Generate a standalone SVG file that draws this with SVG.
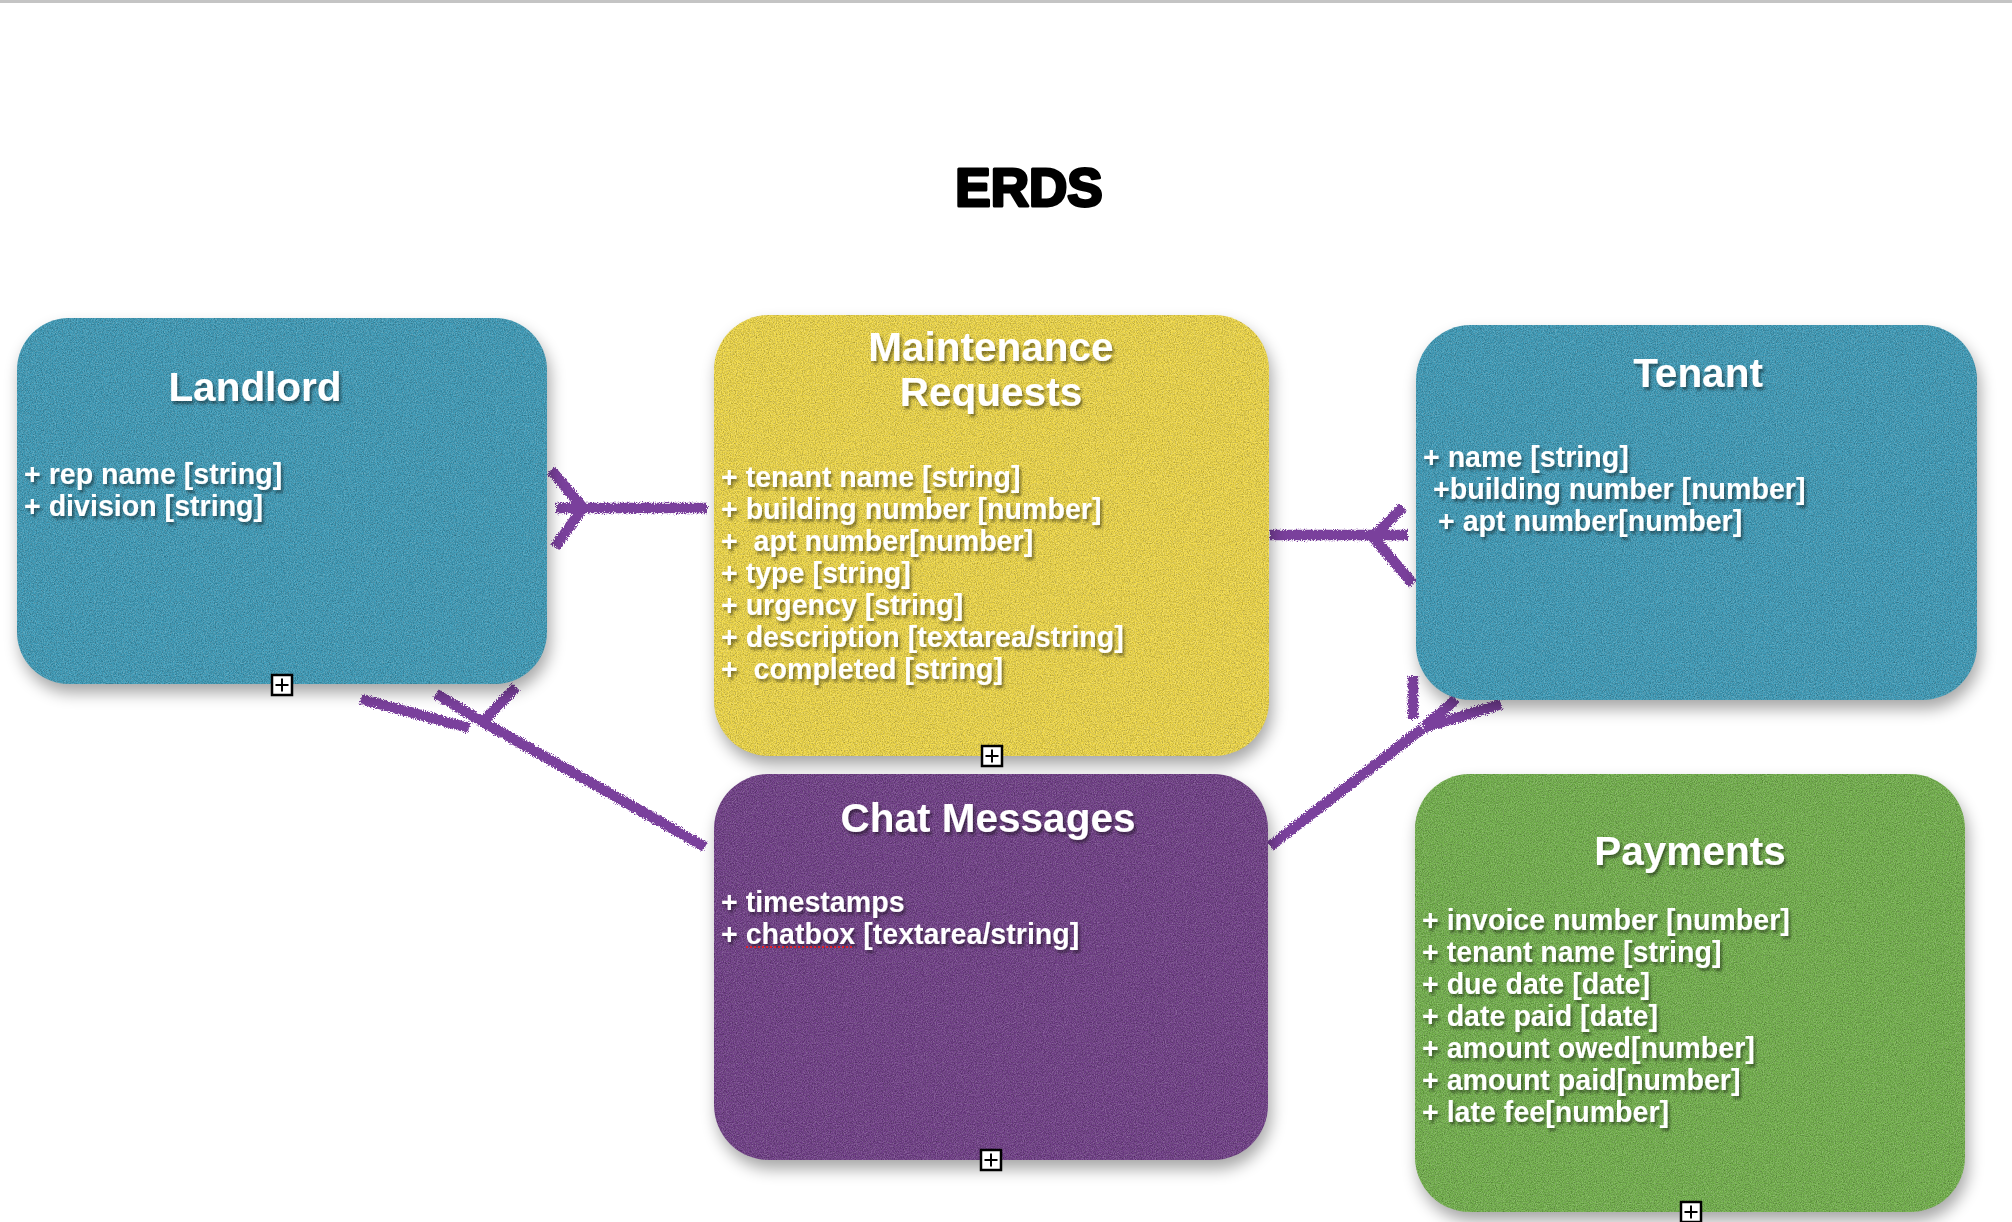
<svg xmlns="http://www.w3.org/2000/svg" width="2012" height="1222" viewBox="0 0 2012 1222">
<defs>
  <filter id="box" x="-10%" y="-10%" width="125%" height="130%" color-interpolation-filters="sRGB">
    <feGaussianBlur in="SourceAlpha" stdDeviation="8" result="b"/>
    <feOffset in="b" dx="3" dy="9" result="bo"/>
    <feComponentTransfer in="bo" result="sh"><feFuncA type="linear" slope="0.35"/></feComponentTransfer>
    <feTurbulence type="fractalNoise" baseFrequency="0.85" numOctaves="2" seed="4" result="n"/>
    <feColorMatrix in="n" type="matrix" values="0 0 0 0 0  0 0 0 0 0  0 0 0 0 0  0.6 0 0 0 -0.22" result="dk"/>
    <feComposite in="dk" in2="SourceAlpha" operator="in" result="dkin"/>
    <feTurbulence type="fractalNoise" baseFrequency="0.9" numOctaves="2" seed="9" result="n2"/>
    <feColorMatrix in="n2" type="matrix" values="0 0 0 0 1  0 0 0 0 1  0 0 0 0 1  0.5 0 0 0 -0.18" result="lt"/>
    <feComposite in="lt" in2="SourceAlpha" operator="in" result="ltin"/>
    <feMerge><feMergeNode in="sh"/><feMergeNode in="SourceGraphic"/><feMergeNode in="dkin"/><feMergeNode in="ltin"/></feMerge>
  </filter>
  <filter id="ts" x="-5%" y="-20%" width="115%" height="160%">
    <feDropShadow dx="2" dy="3" stdDeviation="1.6" flood-color="#000" flood-opacity="0.45"/>
  </filter>
  <filter id="crayon" x="-10%" y="-10%" width="120%" height="120%">
    <feTurbulence type="fractalNoise" baseFrequency="0.9" numOctaves="2" seed="2" result="t"/>
    <feDisplacementMap in="SourceGraphic" in2="t" scale="6" xChannelSelector="R" yChannelSelector="G"/>
  </filter>
  <g id="plus">
    <rect x="-10" y="-10" width="20" height="20" fill="#fff" stroke="#000" stroke-width="2.5"/>
    <path d="M-6.5 0H6.5M0 -6.5V6.5" stroke="#000" stroke-width="2"/>
  </g>
</defs>
<style>
  .title{font-family:"Liberation Sans",Arial,sans-serif;font-weight:bold;font-size:40.5px;fill:#fff;text-anchor:middle}
  .attr{font-family:"Liberation Sans",Arial,sans-serif;font-weight:bold;font-size:28.6px;fill:#fff}
  .conn{fill:none;stroke:#7a3f9c;stroke-width:10.5;stroke-linecap:butt;stroke-linejoin:round}
</style>
<rect width="2012" height="1222" fill="#fff"/>
<rect x="0" y="0" width="2012" height="3" fill="#c4c4c4"/>

<text id="heading" x="1029" y="206" font-family="'Liberation Sans',Arial,sans-serif" font-weight="bold" font-size="53" fill="#000" stroke="#000" stroke-width="3" stroke-linejoin="round" text-anchor="middle">ERDS</text>

<g id="connectors" filter="url(#crayon)">
  <path class="conn" d="M556 508H707M551 470L583 508L555 547"/>
  <path class="conn" d="M1270 535H1408M1403 507L1373 537L1413 584"/>
  <path class="conn" d="M705 847L483 722L436 694M361 699L469 728M483 722L516 687"/>
  <path class="conn" d="M1270 846L1423 728M1413 676V719M1424 727L1456 699M1424 728L1501 704"/>
</g>

<g id="landlord">
  <rect x="17" y="318" width="530" height="366" rx="52" fill="#3c9cba" filter="url(#box)"/>
  <g filter="url(#ts)">
    <text class="title" x="255" y="401">Landlord</text>
    <text class="attr" x="24" y="484">+ rep name [string]</text>
    <text class="attr" x="24" y="516">+ division [string]</text>
  </g>
  <use href="#plus" x="282" y="685"/>
</g>

<g id="maintenance">
  <rect x="714" y="315" width="555" height="441" rx="55" fill="#f2da46" filter="url(#box)"/>
  <g filter="url(#ts)">
    <text class="title" x="991" y="361">Maintenance</text>
    <text class="title" x="991" y="406">Requests</text>
    <text class="attr" x="721" y="487" xml:space="preserve">+ tenant name [string]</text>
    <text class="attr" x="721" y="519" xml:space="preserve">+ building number [number]</text>
    <text class="attr" x="721" y="551" xml:space="preserve">+  apt number[number]</text>
    <text class="attr" x="721" y="583" xml:space="preserve">+ type [string]</text>
    <text class="attr" x="721" y="615" xml:space="preserve">+ urgency [string]</text>
    <text class="attr" x="721" y="647" xml:space="preserve">+ description [textarea/string]</text>
    <text class="attr" x="721" y="679" xml:space="preserve">+  completed [string]</text>
  </g>
  <use href="#plus" x="992" y="756"/>
</g>

<g id="tenant">
  <rect x="1416" y="325" width="561" height="375" rx="55" fill="#3c9cba" filter="url(#box)"/>
  <g filter="url(#ts)">
    <text class="title" x="1698" y="387">Tenant</text>
    <text class="attr" x="1423" y="467">+ name [string]</text>
    <text class="attr" x="1433" y="499">+building number [number]</text>
    <text class="attr" x="1438" y="531">+ apt number[number]</text>
  </g>
</g>

<g id="chat">
  <rect x="714" y="774" width="554" height="386" rx="55" fill="#6f3c87" filter="url(#box)"/>
  <g filter="url(#ts)">
    <text class="title" x="988" y="832">Chat Messages</text>
    <text class="attr" x="721" y="912">+ timestamps</text>
    <text class="attr" x="721" y="944">+ chatbox [textarea/string]</text>
  </g>
  <path d="M746 947H853" stroke="#e0202a" stroke-width="2" stroke-dasharray="2 2"/>
  <use href="#plus" x="991" y="1160"/>
</g>

<g id="payments">
  <rect x="1415" y="774" width="550" height="438" rx="55" fill="#72b24a" filter="url(#box)"/>
  <g filter="url(#ts)">
    <text class="title" x="1690" y="865">Payments</text>
    <text class="attr" x="1422" y="930">+ invoice number [number]</text>
    <text class="attr" x="1422" y="962">+ tenant name [string]</text>
    <text class="attr" x="1422" y="994">+ due date [date]</text>
    <text class="attr" x="1422" y="1026">+ date paid [date]</text>
    <text class="attr" x="1422" y="1058">+ amount owed[number]</text>
    <text class="attr" x="1422" y="1090">+ amount paid[number]</text>
    <text class="attr" x="1422" y="1122">+ late fee[number]</text>
  </g>
  <use href="#plus" x="1691" y="1212"/>
</g>
</svg>
